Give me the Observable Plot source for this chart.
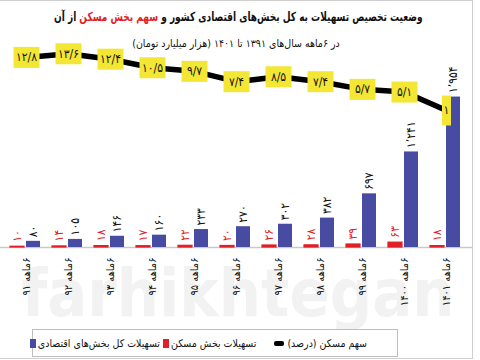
<!DOCTYPE html>
<html>
<head>
<meta charset="utf-8">
<script src="https://cdn.jsdelivr.net/npm/d3@7"></script>
<script src="https://cdn.jsdelivr.net/npm/@observablehq/plot@0.6"></script>
<style>
  html, body { margin: 0; padding: 0; background: #fff; }
  #wrap { position: relative; width: 480px; height: 360px; overflow: hidden; font-family: "DejaVu Sans Condensed", "DejaVu Sans", sans-serif; }
  #wrap svg { position: absolute; left: 0; top: 0; }
  .frame { position: absolute; left: -1px; top: 0; width: 472px; height: 357px; border: 1px solid #cfcfcf; }
  .wm { position: absolute; left: 0; width: 476px; text-align: center; color: #f2f2f2; font-weight: bold; font-family: "DejaVu Sans Condensed", sans-serif; line-height: 60px; }
  .title { position: absolute; top: 9px; left: 0; width: 477px; text-align: center; font-size: 12.5px; font-weight: bold; direction: rtl; color: #111; white-space: nowrap; }
  .title .inner { display: inline-block; transform: scaleX(0.8); transform-origin: center; }
  .title .hl { color: #e21f26; }
  .sub { position: absolute; top: 37px; left: 0; width: 472px; text-align: center; font-size: 10.5px; direction: rtl; color: #111; white-space: nowrap; }
  .legend { position: absolute; left: 32px; top: 329px; width: 366px; height: 28px; border: 1px solid #bdbdbd; background: #fff;
            display: flex; direction: rtl; align-items: center; padding-right: 30px; box-sizing: border-box; font-size: 10.5px; color: #111; }
  .legend .item { display: flex; align-items: center; white-space: nowrap; }
  .legend .sw { display: inline-block; width: 6px; height: 9px; margin-right: 2px; }
  .legend .ln { display: inline-block; width: 10px; height: 5px; background: #000; border-radius: 2px; margin-right: 3px; }
</style>
</head>
<body>
<div id="wrap">
  <div class="wm" style="top:264px;font-size:66px;">farhikhtegan</div>
  <div class="frame"></div>
  <div class="title"><span class="inner">وضعیت تخصیص تسهیلات به کل بخش‌های اقتصادی کشور و <span class="hl">سهم بخش مسکن</span> از آن</span></div>
  <div class="sub">در ۶ماهه سال‌های ۱۳۹۱ تا ۱۴۰۱ (هزار میلیارد تومان)</div>
</div>
<script>
// ---- data ----
const periods = ["۶ماهه ۹۱", "۶ماهه ۹۲", "۶ماهه ۹۳", "۶ماهه ۹۴", "۶ماهه ۹۵", "۶ماهه ۹۶",
                 "۶ماهه ۹۷", "۶ماهه ۹۸", "۶ماهه ۹۹", "۶ماهه ۱۴۰۰", "۶ماهه ۱۴۰۱"];
const totalLoans   = [80, 105, 146, 160, 233, 270, 302, 382, 697, 1241, 1954];   // تسهیلات کل بخش‌های اقتصادی
const housingLoans = [10, 14, 18, 17, 22, 20, 26, 28, 39, 63, 18];               // تسهیلات بخش مسکن
const housingShare = [12.8, 13.6, 12.4, 10.5, 9.7, 7.4, 8.5, 7.4, 5.7, 5.1, 1];  // سهم مسکن (درصد)
const legendLabels = ["سهم مسکن (درصد)", "تسهیلات بخش مسکن", "تسهیلات کل بخش‌های اقتصادی"];

const BLUE = "#474ba2", RED = "#e21f26", YELLOW = "#f4e634";
const FONT = "DejaVu Sans Condensed, DejaVu Sans, sans-serif";
const RLM = "\u200F";

const faDigits = s => String(s).replace(/\d/g, d => "۰۱۲۳۴۵۶۷۸۹"[+d]);
const fmtInt = n => faDigits(d3.format(",")(n)).replace(/,/g, "٬");
const fmtDec = n => faDigits(String(n)).replace(".", "/");

const data = periods.map((p, i) => ({period: p, total: totalLoans[i], housing: housingLoans[i], share: housingShare[i], idx: i}));

const wrap = document.getElementById("wrap");

// ---- bars ----
const bars = Plot.plot({
  width: 480, height: 360,
  marginLeft: 0, marginRight: 8, marginTop: 93, marginBottom: 113,
  style: {fontFamily: FONT, fontSize: "11px", background: "transparent", color: "#111"},
  x: {type: "band", domain: periods, padding: 0, tickRotate: -90, tickSize: 0, tickPadding: 10, label: null,
      tickFormat: d => RLM + d},
  y: {domain: [0, 2000], axis: null},
  marks: [
    Plot.ruleY([0], {stroke: "#c9c9c9", strokeWidth: 1.5}),
    Plot.barY(data, {x: "period", y: "housing", fill: RED, stroke: RED, strokeWidth: 1.2, insetLeft: 5, insetRight: 23}),
    Plot.barY(data, {x: "period", y: "total", fill: BLUE, insetLeft: 21, insetRight: 7}),
    Plot.text(data, {x: "period", y: "total", text: d => fmtInt(d.total), rotate: -90, textAnchor: "start",
                     dx: 7, dy: -4, fontSize: 12, fill: "#111"}),
    Plot.text(data, {x: "period", y: "housing", text: d => fmtInt(d.housing), rotate: -90, textAnchor: "start",
                     dx: -9, dy: -5, fontSize: 12, fill: RED})
  ]
});
wrap.appendChild(bars);

// ---- share line with yellow boxes ----
const boxSymbol = (w, h) => ({draw(ctx) { ctx.rect(-w / 2, -h / 2, w, h); }});
const line = Plot.plot({
  width: 480, height: 360,
  marginLeft: 0, marginRight: 8, marginTop: 47, marginBottom: 245.5,
  style: {fontFamily: FONT, background: "transparent"},
  x: {type: "band", domain: periods, padding: 0, axis: null},
  y: {domain: [0, 15], axis: null},
  marks: [
    Plot.line(data, {x: "period", y: "share", stroke: "#000", strokeWidth: 5.5}),
    Plot.dot(data.filter(d => d.idx < 10), {x: "period", y: "share", symbol: boxSymbol(26, 21), fill: YELLOW, stroke: null}),
    Plot.dot(data.filter(d => d.idx >= 10), {x: "period", y: "share", symbol: boxSymbol(9, 30), fill: YELLOW, stroke: null}),
    Plot.text(data, {x: "period", y: "share", text: d => fmtDec(d.share), fontSize: 12, fill: "#111"})
  ]
});
wrap.appendChild(line);

// ---- legend ----
const legend = document.createElement("div");
legend.className = "legend";
const swatches = [
  '<span class="ln"></span>',
  `<span class="sw" style="background:${RED}"></span>`,
  `<span class="sw" style="background:${BLUE}"></span>`
];
legendLabels.forEach((lab, i) => {
  const it = document.createElement("div");
  it.className = "item";
  it.style.marginLeft = i === 0 ? "18px" : "3px";
  it.innerHTML = `<span>${lab}</span>${swatches[i]}`;
  legend.appendChild(it);
});
wrap.appendChild(legend);
</script>
</body>
</html>
